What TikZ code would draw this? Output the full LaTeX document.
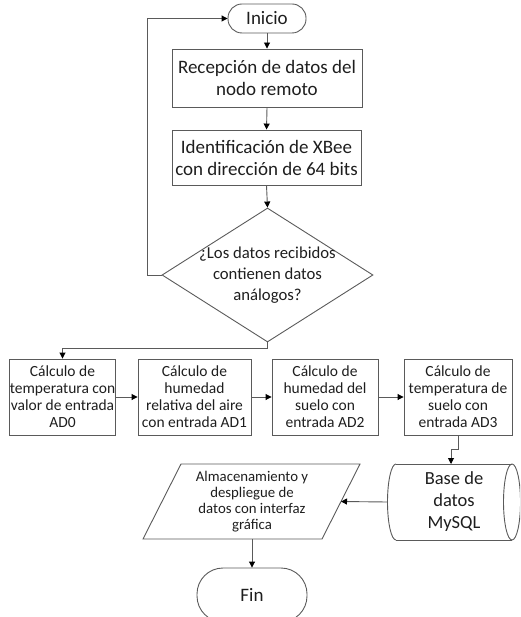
\documentclass[tikz,border=0pt]{standalone}
\usepackage{fontspec}
\setmainfont{Carlito}
\usetikzlibrary{arrows.meta,shapes.geometric}
\definecolor{edge}{RGB}{90,90,90}
\definecolor{txt}{RGB}{30,30,30}
\begin{document}
\begin{tikzpicture}[x=1pt,y=-1pt,
  every node/.style={text=txt},
  shp/.style={draw=edge,line width=0.9pt},
  procbox/.style={shp,rectangle,inner sep=0pt,align=center},
  termbox/.style={shp,rectangle,rounded corners=14pt,inner sep=0pt,align=center},
  big/.style={font=\fontsize{19}{22}\selectfont},
  mid/.style={font=\fontsize{16.7}{21}\selectfont},
  small/.style={font=\fontsize{15.5}{17}\selectfont},
  tiny/.style={font=\fontsize{14.8}{16}\selectfont},
  dbfont/.style={font=\fontsize{18.5}{22}\selectfont},
  conn/.style={draw=edge,line width=0.9pt,-{Triangle[length=6pt,width=6pt,fill=black,color=black]}},
  plain/.style={draw=edge,line width=0.9pt}
]
\useasboundingbox (0,0) rectangle (520,617);
\clip (0,0) rectangle (520,617);

% top chain
\node[termbox,big,minimum width=78pt,minimum height=29pt] (inicio) at (267,18.5) {Inicio};
\node[procbox,big,minimum width=190pt,minimum height=58pt] (rec) at (267,78) {Recepción de datos del\\nodo remoto};
\node[procbox,big,minimum width=189pt,minimum height=55pt] (ide) at (266.5,157.5) {Identificación de XBee\\con dirección de 64 bits};
\node[shp,diamond,inner sep=0pt,minimum width=211pt,minimum height=134pt] (dia) at (267.5,275) {};
\node[mid,align=center] (diatxt) at (267.5,275) {¿Los datos recibidos\\contienen datos\\análogos?};

\draw[conn] (inicio.south) -- (rec.north);
\draw[conn] (rec.south) -- (ide.north);
\draw[conn] (ide.south) -- (dia.north);
\draw[conn] (dia.west) -- (147,275) |- (inicio.west);

% row of calculations
\node[procbox,small,minimum width=105pt,minimum height=76pt] (ca) at (62.5,397) {Cálculo de\\temperatura con\\valor de entrada\\AD0};
\node[procbox,small,minimum width=113pt,minimum height=76pt] (cb) at (194.5,397) {Cálculo de\\humedad\\relativa del aire\\con entrada AD1};
\node[procbox,small,minimum width=106pt,minimum height=76pt] (cc) at (325,397) {Cálculo de\\humedad del\\suelo con\\entrada AD2};
\node[procbox,small,minimum width=108pt,minimum height=76pt] (cd) at (458,397) {Cálculo de\\temperatura de\\suelo con\\entrada AD3};

\draw[conn] (dia.south) -- ++(0,6) -| (ca.north);
\draw[conn] (ca.east) -- (cb.west);
\draw[conn] (cb.east) -- (cc.west);
\draw[conn] (cc.east) -- (cd.west);

% database cylinder
\node[dbfont,align=center,inner sep=0pt,minimum width=132pt,minimum height=76pt] (db) at (454,502) {Base de\\datos\\MySQL};
\draw[shp] (396,464) -- (512,464);
\draw[shp] (396,540) -- (512,540);
\draw[shp] (512,502) ellipse [x radius=8.5, y radius=38];
\draw[shp] (396,464) arc [start angle=-90, end angle=-270, x radius=8.5, y radius=38];
\coordinate (dbtop) at (451,464);
\coordinate (dbleft) at (387.5,502);
\draw[conn] (cd.south) -- ++(0,14) -| (dbtop);

% storage parallelogram
\node[tiny,align=center,inner sep=0pt] (store) at (252,501.5) {Almacenamiento y\\despliegue de\\datos con interfaz\\gráfica};
\draw[shp] (181,464) -- (360,464) -- (322,539) -- (143,539) -- cycle;
\coordinate (storeR) at (341,501.5);
\coordinate (storeB) at (252,539);
\draw[conn] (dbleft) -- (storeR);

% end
\node[termbox,big,rounded corners=26pt,minimum width=110pt,minimum height=54pt] (fin) at (252,595) {Fin};
\draw[conn] (storeB) -- (fin.north);
\end{tikzpicture}
\end{document}
